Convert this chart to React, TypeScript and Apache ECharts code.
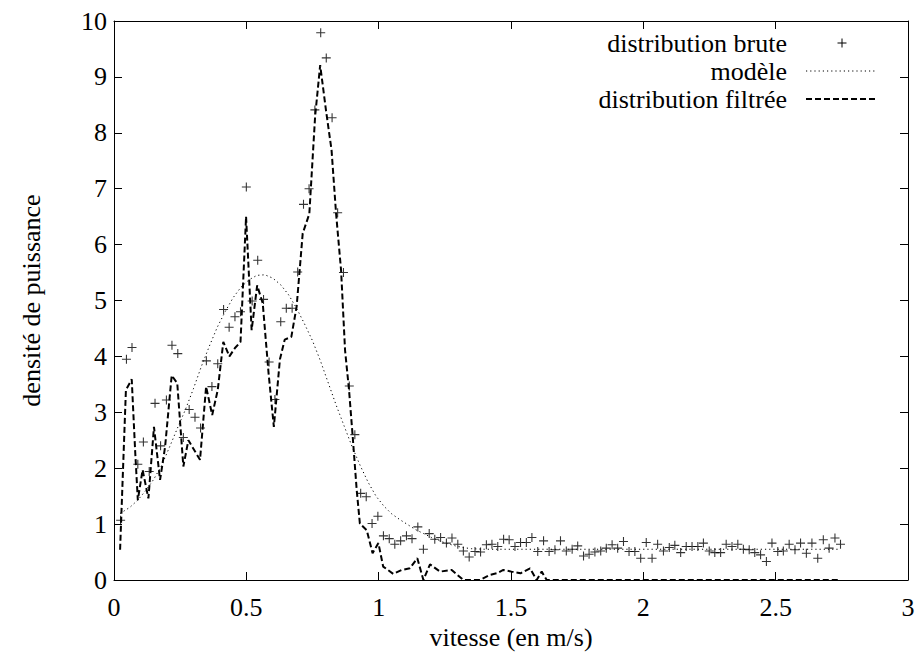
import React, { useEffect, useRef } from "react";
import * as echarts from "echarts";

// Raw distribution: sampled velocities (m/s) and measured power density
const rawVelocity = [
  0.025, 0.047, 0.068, 0.090, 0.111, 0.133, 0.155, 0.176, 0.198, 0.219,
  0.241, 0.262, 0.284, 0.306, 0.327, 0.349, 0.370, 0.392, 0.414, 0.435,
  0.457, 0.478, 0.500, 0.522, 0.543, 0.565, 0.586, 0.608, 0.630, 0.651,
  0.673, 0.694, 0.716, 0.737, 0.759, 0.781, 0.802, 0.824, 0.845, 0.867,
  0.889, 0.910, 0.932, 0.953, 0.975, 0.997, 1.018, 1.040, 1.061, 1.083,
  1.105, 1.126, 1.148, 1.169, 1.191, 1.212, 1.234, 1.256, 1.277, 1.299,
  1.320, 1.342, 1.364, 1.385, 1.407, 1.428, 1.450, 1.472, 1.493, 1.515,
  1.536, 1.558, 1.579, 1.601, 1.623, 1.644, 1.666, 1.687, 1.709, 1.731,
  1.752, 1.774, 1.795, 1.817, 1.839, 1.860, 1.882, 1.903, 1.925, 1.946,
  1.968, 1.990, 2.011, 2.033, 2.054, 2.076, 2.098, 2.119, 2.141, 2.162,
  2.184, 2.206, 2.227, 2.249, 2.270, 2.292, 2.313, 2.335, 2.357, 2.378,
  2.400, 2.421, 2.443, 2.465, 2.486, 2.508, 2.529, 2.551, 2.573, 2.594,
  2.616, 2.637, 2.659, 2.680, 2.702, 2.724, 2.745,
];
const rawDensity = [
  1.07, 3.95, 4.16, 2.07, 2.47, 1.94, 3.16, 2.40, 3.22, 4.20,
  4.05, 2.55, 3.05, 2.91, 2.72, 3.92, 3.46, 3.87, 4.84, 4.52,
  4.71, 4.80, 7.03, 4.99, 5.72, 5.02, 3.90, 3.23, 4.62, 4.86,
  4.86, 5.51, 6.72, 7.00, 8.41, 9.79, 9.34, 8.27, 6.57, 5.50,
  3.47, 2.60, 1.55, 1.49, 1.01, 1.14, 0.79, 0.74, 0.64, 0.70,
  0.79, 0.74, 0.95, 0.55, 0.83, 0.73, 0.76, 0.66, 0.75, 0.64,
  0.52, 0.41, 0.51, 0.50, 0.63, 0.64, 0.60, 0.73, 0.72, 0.60,
  0.67, 0.67, 0.76, 0.51, 0.70, 0.51, 0.54, 0.70, 0.52, 0.55,
  0.61, 0.43, 0.46, 0.50, 0.52, 0.57, 0.63, 0.57, 0.69, 0.51,
  0.51, 0.39, 0.67, 0.39, 0.64, 0.52, 0.58, 0.62, 0.49, 0.60,
  0.60, 0.60, 0.66, 0.52, 0.49, 0.49, 0.64, 0.60, 0.64, 0.55,
  0.54, 0.49, 0.45, 0.33, 0.66, 0.51, 0.52, 0.64, 0.54, 0.66,
  0.48, 0.66, 0.39, 0.72, 0.57, 0.75, 0.64,
];

// Model curve
const modelVelocity = [
  0.023, 0.06, 0.09, 0.12, 0.15, 0.18, 0.21, 0.24, 0.27, 0.30,
  0.33, 0.36, 0.39, 0.42, 0.45, 0.48, 0.51, 0.54, 0.57, 0.60,
  0.63, 0.66, 0.69, 0.72, 0.75, 0.78, 0.81, 0.84, 0.87, 0.90,
  0.93, 0.96, 0.99, 1.02, 1.05, 1.08, 1.11, 1.14, 1.17, 1.20,
  1.23, 1.26, 1.29, 1.32, 1.35, 1.40, 1.50, 2.745,
];
const modelDensity = [
  1.19, 1.30, 1.43, 1.60, 1.80, 2.05, 2.38, 2.72, 3.05, 3.42,
  3.82, 4.18, 4.52, 4.80, 5.05, 5.24, 5.37, 5.45, 5.46, 5.40,
  5.28, 5.10, 4.86, 4.58, 4.28, 3.92, 3.52, 3.12, 2.75, 2.38,
  2.05, 1.75, 1.50, 1.32, 1.18, 1.08, 0.99, 0.90, 0.83, 0.76,
  0.70, 0.65, 0.61, 0.58, 0.56, 0.55, 0.55, 0.55,
];

// Filtered distribution
const filteredVelocity = [
  0.023, 0.045, 0.067, 0.080, 0.090, 0.108, 0.130, 0.151, 0.174, 0.193,
  0.218, 0.239, 0.262, 0.281, 0.325, 0.348, 0.371, 0.392, 0.413, 0.436,
  0.457, 0.478, 0.499, 0.520, 0.541, 0.562, 0.584, 0.604, 0.627, 0.645,
  0.670, 0.690, 0.713, 0.738, 0.760, 0.779, 0.801, 0.822, 0.839, 0.858,
  0.873, 0.888, 0.902, 0.917, 0.929, 0.955, 0.977, 0.999, 1.017, 1.055,
  1.087, 1.118, 1.146, 1.169, 1.194, 1.232, 1.276, 1.320, 1.383, 1.420,
  1.446, 1.471, 1.502, 1.536, 1.572, 1.597, 1.616, 1.635, 2.745,
];
const filteredDensity = [
  0.54, 3.40, 3.59, 2.30, 1.43, 1.97, 1.46, 2.74, 1.79, 2.38,
  3.66, 3.52, 2.03, 2.50, 2.15, 3.46, 2.95, 3.40, 4.26, 4.00,
  4.15, 4.26, 6.50, 4.47, 5.27, 4.95, 3.70, 2.74, 3.95, 4.30,
  4.35, 4.89, 6.20, 6.55, 8.30, 9.21, 8.40, 7.69, 6.56, 5.54,
  4.11, 3.40, 2.56, 1.61, 1.01, 0.89, 0.48, 0.66, 0.24, 0.11,
  0.18, 0.21, 0.39, 0.00, 0.28, 0.15, 0.18, 0.00, 0.00, 0.09,
  0.12, 0.18, 0.15, 0.12, 0.21, 0.00, 0.15, 0.00, 0.00,
];

const xTicks = { min: 0, max: 3, interval: 0.5 };
const yTicks = { min: 0, max: 10, interval: 1 };

const seriesNames = ["distribution brute", "modèle", "distribution filtrée"];

const FONT = "Liberation Serif";
const FS = 26;
const CROSS = "path://M4.4,0H5.6V4.4H10V5.6H5.6V10H4.4V5.6H0V4.4H4.4Z";
const DOT = [1.2, 3];
const DASH = [6, 3];

function zip(xs: number[], ys: number[]) {
  return xs.map((x, i) => [x, ys[i]]);
}

export default function App() {
  const ref = useRef<HTMLDivElement>(null);
  useEffect(() => {
    if (!ref.current) return;
    document.body.style.margin = "0";
    const chart = echarts.init(ref.current, null, { renderer: "svg" });
    const axisLine = { show: true, onZero: false, lineStyle: { color: "#000", width: 1 } };
    const tick = { show: true, inside: true, length: 8, lineStyle: { color: "#000", width: 1 } };
    const label = { color: "#000", fontFamily: FONT, fontSize: FS, fontStyle: "normal", fontWeight: "normal" };
    const lx = 787;
    const sx1 = 806;
    const sx2 = 875;
    const legendText = (text: string, y: number) => ({
      type: "text", x: lx, y,
      style: {
        text, fontFamily: FONT, fontSize: FS, fontStyle: "normal", fontWeight: "normal",
        fill: "#000", align: "right", verticalAlign: "middle",
      },
    });
    chart.setOption({
      animation: false,
      textStyle: { fontFamily: FONT },
      grid: { left: 114, right: 14, top: 21, bottom: 84, containLabel: false },
      xAxis: [
        {
          type: "value", ...xTicks, position: "bottom",
          axisLine, axisTick: tick, splitLine: { show: false },
          axisLabel: { ...label, margin: 14 },
          name: "vitesse (en m/s)", nameLocation: "middle", nameGap: 44,
          nameTextStyle: { ...label },
        },
        {
          type: "value", ...xTicks, position: "top",
          axisLine, axisTick: tick, splitLine: { show: false },
          axisLabel: { show: false },
        },
      ],
      yAxis: [
        {
          type: "value", ...yTicks, position: "left",
          axisLine, axisTick: tick, splitLine: { show: false },
          axisLabel: { ...label, margin: 7 },
          name: "densité de puissance", nameLocation: "middle", nameGap: 70, nameRotate: 90,
          nameTextStyle: { ...label },
        },
        {
          type: "value", ...yTicks, position: "right",
          axisLine, axisTick: tick, splitLine: { show: false },
          axisLabel: { show: false },
        },
      ],
      series: [
        {
          name: seriesNames[0], type: "scatter",
          data: zip(rawVelocity, rawDensity),
          symbol: CROSS, symbolSize: 9,
          itemStyle: { color: "#000" },
        },
        {
          name: seriesNames[1], type: "line",
          data: zip(modelVelocity, modelDensity),
          showSymbol: false, symbol: "none",
          lineStyle: { color: "#000", width: 1, type: DOT },
        },
        {
          name: seriesNames[2], type: "line",
          data: zip(filteredVelocity, filteredDensity),
          showSymbol: false, symbol: "none",
          lineStyle: { color: "#000", width: 2, type: DASH },
        },
      ],
      graphic: [
        legendText(seriesNames[0], 43),
        legendText(seriesNames[1], 71),
        legendText(seriesNames[2], 99),
        { type: "line", shape: { x1: 837.5, y1: 43, x2: 846.5, y2: 43 }, style: { stroke: "#000", lineWidth: 1 } },
        { type: "line", shape: { x1: 842, y1: 38.5, x2: 842, y2: 47.5 }, style: { stroke: "#000", lineWidth: 1 } },
        { type: "line", shape: { x1: sx1, y1: 71, x2: sx2, y2: 71 }, style: { stroke: "#000", lineWidth: 1, lineDash: DOT } },
        { type: "line", shape: { x1: sx1, y1: 99, x2: sx2, y2: 99 }, style: { stroke: "#000", lineWidth: 2, lineDash: DASH } },
      ],
    });
    return () => chart.dispose();
  }, []);
  return (
    <div>
      <div ref={ref} style={{ width: 922, height: 664 }} />
    </div>
  );
}
